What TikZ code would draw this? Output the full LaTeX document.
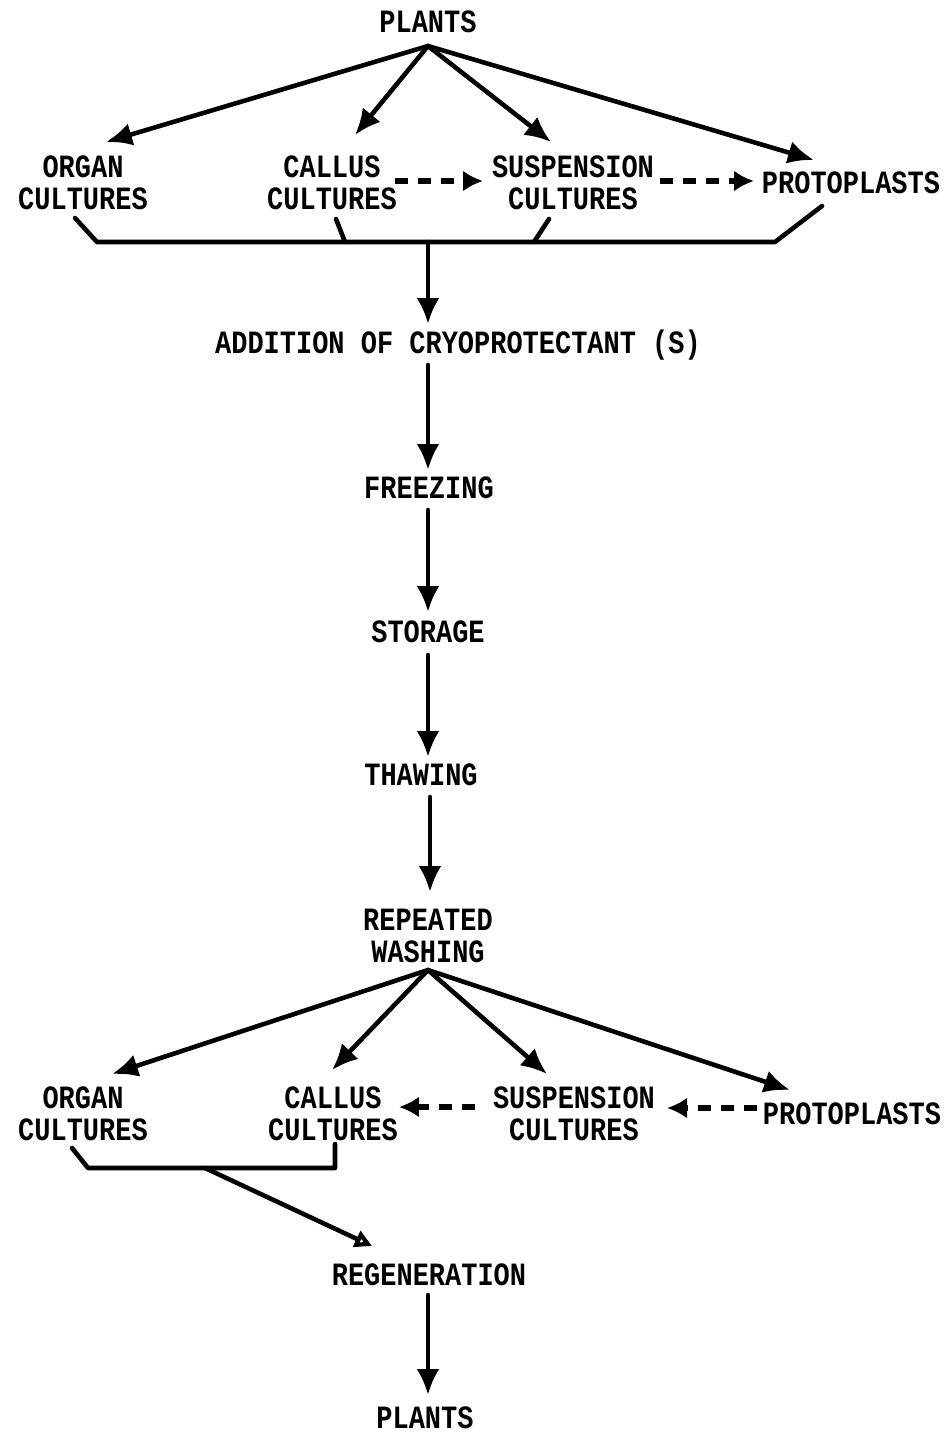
\documentclass[tikz,border=0pt]{standalone}
\usepackage{fontspec}
\setmainfont{Liberation Mono}[FakeStretch=0.83]
\usetikzlibrary{arrows.meta}
\begin{document}
\begin{tikzpicture}[x=0.02cm,y=-0.02cm,
  lbl/.style={font=\fontsize{18.5}{18.2}\selectfont\bfseries, align=center, inner sep=0pt},
  ln/.style={line width=2.6pt, line cap=round, line join=round},
  arr/.style={ln, -{Latex[length=0.52cm, width=0.46cm]}},
  darr/.style={line width=3pt, dash pattern=on 0.26cm off 0.2cm, -{Latex[length=0.4cm, width=0.42cm]}},
  oarr/.style={ln, -{Triangle[open, length=0.34cm, width=0.34cm, line width=2.6pt]}}]
\useasboundingbox (0,0) rectangle (946,1434);
% top level
\node[lbl] (plants) at (428,22) {PLANTS};
\node[lbl] (organ) at (83,183) {ORGAN\\CULTURES};
\node[lbl] (callus) at (332,183) {CALLUS\\CULTURES};
\node[lbl] (susp) at (573,183) {SUSPENSION\\CULTURES};
\node[lbl] (proto) at (851,183) {PROTOPLASTS};
\coordinate (fan) at (428,46);
\coordinate (tO) at (106,142);
\coordinate (tC) at (355,135);
\coordinate (tS) at (551,142);
\coordinate (tP) at (814,160);
\draw[arr] (fan) -- (tO);
\draw[arr] (fan) -- (tC);
\draw[arr] (fan) -- (tS);
\draw[arr] (fan) -- (tP);
\coordinate (dc1) at (395,181);
\coordinate (dc2) at (483,181);
\coordinate (ds1) at (660,181);
\coordinate (ds2) at (754,181);
\draw[darr] (dc1) -- (dc2);
\draw[darr] (ds1) -- (ds2);
% bracket
\coordinate (bL) at (97,242);
\coordinate (bR) at (775,242);
\coordinate (bM) at (428,242);
\draw[ln] (75,218) -- (bL) -- (bR) -- (822,206);
\draw[ln] (336,219) -- (345,242);
\draw[ln] (549,219) -- (534,242);
\coordinate (aTop) at (428,324);
\draw[arr] (bM) -- (aTop);
% chain
\node[lbl] (add) at (458,345) {ADDITION OF CRYOPROTECTANT (S)};
\node[lbl] (freeze) at (429,488) {FREEZING};
\node[lbl] (store) at (428,632) {STORAGE};
\node[lbl] (thaw) at (421,775) {THAWING};
\node[lbl] (wash) at (428,936) {REPEATED\\WASHING};
\coordinate (a1s) at (428,365);
\coordinate (a1e) at (428,470);
\coordinate (a2s) at (428,510);
\coordinate (a2e) at (428,612);
\coordinate (a3s) at (428,655);
\coordinate (a3e) at (428,757);
\coordinate (a4s) at (430,797);
\coordinate (a4e) at (430,892);
\draw[arr] (a1s) -- (a1e);
\draw[arr] (a2s) -- (a2e);
\draw[arr] (a3s) -- (a3e);
\draw[arr] (a4s) -- (a4e);
% bottom level
\node[lbl] (organ2) at (83,1114) {ORGAN\\CULTURES};
\node[lbl] (callus2) at (333,1114) {CALLUS\\CULTURES};
\node[lbl] (susp2) at (574,1114) {SUSPENSION\\CULTURES};
\node[lbl] (proto2) at (852,1114) {PROTOPLASTS};
\coordinate (fan2) at (428,970);
\coordinate (uO) at (112,1074);
\coordinate (uC) at (332,1070);
\coordinate (uS) at (547,1074);
\coordinate (uP) at (790,1090);
\draw[arr] (fan2) -- (uO);
\draw[arr] (fan2) -- (uC);
\draw[arr] (fan2) -- (uS);
\draw[arr] (fan2) -- (uP);
\coordinate (ec1) at (475,1107);
\coordinate (ec2) at (399,1107);
\coordinate (es1) at (757,1108);
\coordinate (es2) at (667,1108);
\draw[darr] (ec1) -- (ec2);
\draw[darr] (es1) -- (es2);
% lower bracket
\coordinate (cL) at (88,1168);
\coordinate (cM) at (205,1168);
\draw[ln] (72,1148) -- (cL) -- (335,1168) -- (335,1144);
\coordinate (rT) at (372,1246);
\draw[oarr] (cM) -- (rT);
\node[lbl] (regen) at (429,1275) {REGENERATION};
\node[lbl] (plants2) at (425,1418) {PLANTS};
\coordinate (a5s) at (428,1295);
\coordinate (a5e) at (428,1395);
\draw[arr] (a5s) -- (a5e);
\end{tikzpicture}
\end{document}
